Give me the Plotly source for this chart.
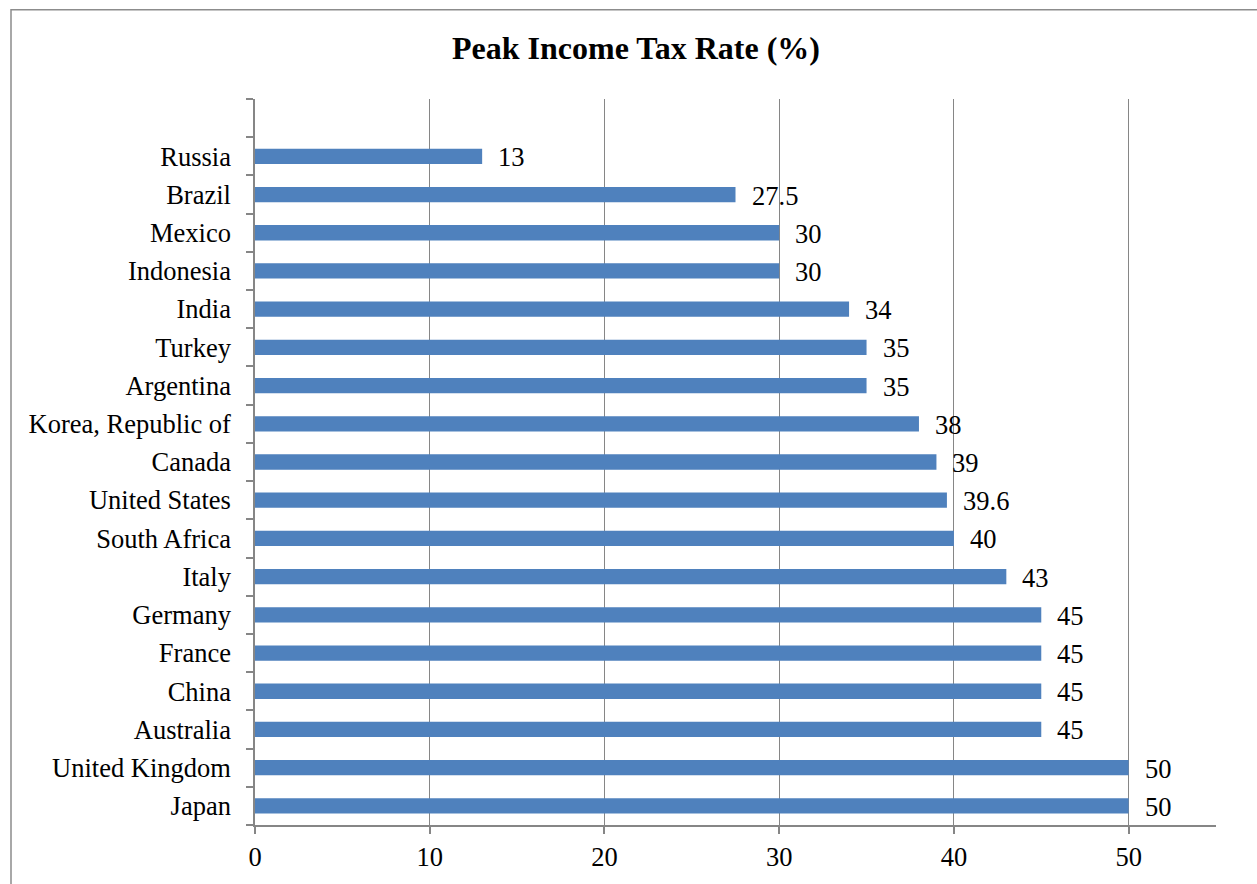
import plotly.graph_objects as go

countries = ["Japan", "United Kingdom", "Australia", "China", "France", "Germany", "Italy",
             "South Africa", "United States", "Canada", "Korea, Republic of", "Argentina",
             "Turkey", "India", "Indonesia", "Mexico", "Brazil", "Russia"]
rates = [50, 50, 45, 45, 45, 45, 43, 40, 39.6, 39, 38, 35, 35, 34, 30, 30, 27.5, 13]
value_labels = ["50", "50", "45", "45", "45", "45", "43", "40", "39.6", "39", "38", "35",
                "35", "34", "30", "30", "27.5", "13"]
x_ticks = [0, 10, 20, 30, 40, 50]

positions = list(range(len(countries)))
FONT = "Liberation Serif, Times New Roman, serif"
GRID = "#868686"
FS = 26.5

fig = go.Figure()
fig.add_trace(go.Bar(
    x=rates, y=positions, orientation="h", width=0.4,
    marker=dict(color="#4F81BD", line=dict(width=0)),
    hoverinfo="skip",
))

for p, v, t in zip(positions, rates, value_labels):
    fig.add_annotation(x=v, y=p, text=t, showarrow=False, xanchor="left",
                       xshift=14, yshift=-1, font=dict(family=FONT, size=FS, color="black"))

fig.add_shape(type="rect", xref="paper", yref="paper",
              x0=(11 - 255) / 961, x1=(1262 - 255) / 961,
              y0=(827 - 890) / 728, y1=(827 - 9.5) / 728,
              line=dict(color="#8c8c8c", width=1.5), fillcolor="rgba(0,0,0,0)", layer="below")

fig.update_layout(
    width=1257, height=884,
    margin=dict(l=255, r=41, t=99, b=57),
    paper_bgcolor="white", plot_bgcolor="white",
    showlegend=False,
    title=dict(text="<b>Peak Income Tax Rate (%)</b>", x=0.506, xanchor="center",
               y=1 - 48 / 884, yanchor="middle",
               font=dict(family=FONT, size=32, color="black")),
    font=dict(family=FONT, size=FS, color="black"),
    bargap=0.6,
)
fig.update_xaxes(
    range=[0, 55], tickvals=x_ticks, ticktext=[str(v) for v in x_ticks],
    showgrid=True, gridcolor=GRID, gridwidth=1,
    showline=True, linecolor=GRID, linewidth=1.5,
    ticks="outside", ticklen=7, tickcolor=GRID, tickwidth=1.5,
    zeroline=False, tickfont=dict(family=FONT, size=FS, color="black"),
)
fig.update_yaxes(
    range=[-0.5, len(countries) + 0.5], tickvals=positions, ticktext=countries,
    showgrid=False, zeroline=False,
    showline=True, linecolor=GRID, linewidth=1.5,
    ticks="", ticklabelstandoff=17,
    minor=dict(tickvals=[i - 0.5 for i in range(len(countries) + 2)], ticks="outside",
               ticklen=7, tickcolor=GRID, tickwidth=1.5, showgrid=False),
    tickfont=dict(family=FONT, size=FS, color="black"),
)

fig.write_html("out.html")
